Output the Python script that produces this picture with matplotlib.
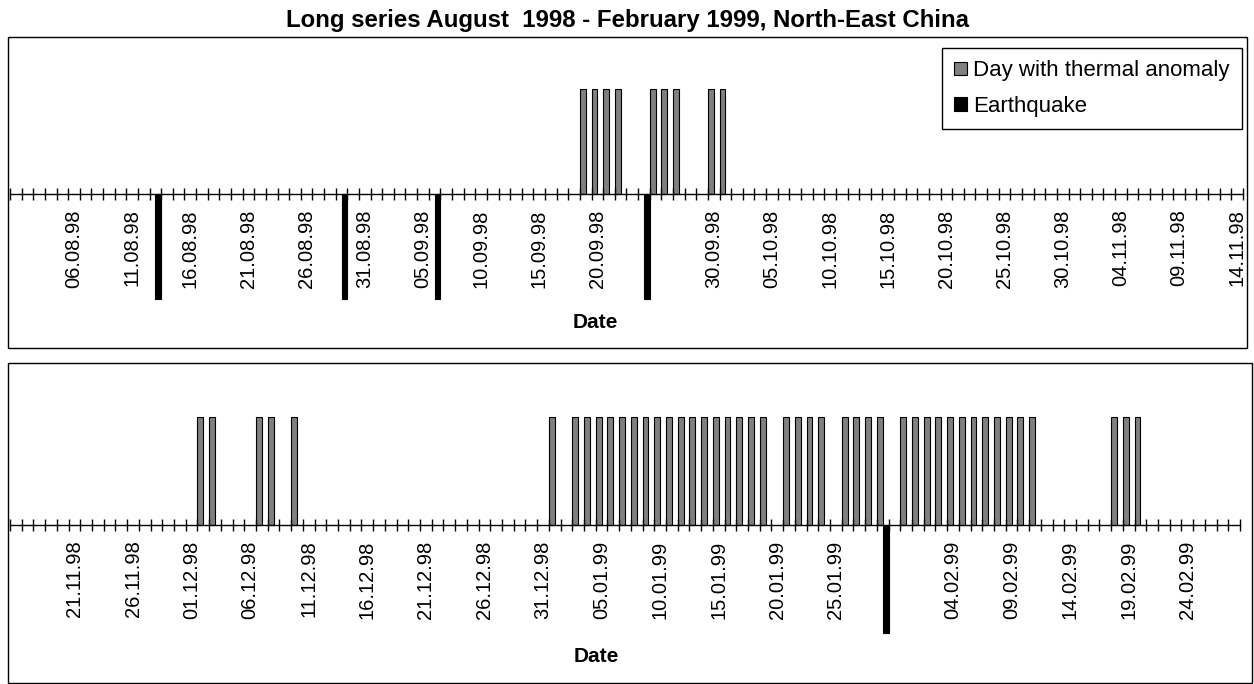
import numpy as np
import pandas as pd
import matplotlib
matplotlib.use('Agg')
import matplotlib.pyplot as plt
from matplotlib.patches import Rectangle

plt.rcParams['font.family'] = ['Liberation Sans', 'DejaVu Sans']

# 数据：日期区间、热异常日、地震日、刻度标签
title = 'Long series August  1998 - February 1999, North-East China'

top_start, top_end = '1998-08-01', '1998-11-14'
bottom_start, bottom_end = '1998-11-16', '1999-02-28'

anomaly_days = [
    '19.09.98', '20.09.98', '21.09.98', '22.09.98',
    '25.09.98', '26.09.98', '27.09.98',
    '30.09.98', '01.10.98',
    '02.12.98', '03.12.98', '07.12.98', '08.12.98', '10.12.98',
    '01.01.99', '03.01.99', '04.01.99', '05.01.99', '06.01.99', '07.01.99',
    '08.01.99', '09.01.99', '10.01.99', '11.01.99', '12.01.99', '13.01.99',
    '14.01.99', '15.01.99', '16.01.99', '17.01.99', '18.01.99', '19.01.99',
    '21.01.99', '22.01.99', '23.01.99', '24.01.99',
    '26.01.99', '27.01.99', '28.01.99', '29.01.99',
    '31.01.99', '01.02.99', '02.02.99', '03.02.99', '04.02.99', '05.02.99',
    '06.02.99', '07.02.99', '08.02.99', '09.02.99', '10.02.99', '11.02.99',
    '18.02.99', '19.02.99', '20.02.99',
]

quake_days = ['13.08.98', '29.08.98', '06.09.98', '24.09.98', '29.01.99']

top_labels = [
    '06.08.98', '11.08.98', '16.08.98', '21.08.98', '26.08.98', '31.08.98',
    '05.09.98', '10.09.98', '15.09.98', '20.09.98', '30.09.98', '05.10.98',
    '10.10.98', '15.10.98', '20.10.98', '25.10.98', '30.10.98', '04.11.98',
    '09.11.98', '14.11.98',
]

bottom_labels = [
    '21.11.98', '26.11.98', '01.12.98', '06.12.98', '11.12.98', '16.12.98',
    '21.12.98', '26.12.98', '31.12.98', '05.01.99', '10.01.99', '15.01.99',
    '20.01.99', '25.01.99', '04.02.99', '09.02.99', '14.02.99', '19.02.99',
    '24.02.99',
]

W, H = 1254, 684


def px_box(x0, y0, x1, y1):
    # 像素坐标（左上为原点）转换为 figure 坐标
    return [x0 / W, 1 - y1 / H, (x1 - x0) / W, (y1 - y0) / H]


def parse(dates):
    return pd.to_datetime(dates, format='%d.%m.%y')


def draw_panel(ax, start, end, labels):
    days = pd.date_range(start, end, freq='D')
    n = len(days)
    x = np.arange(n)
    anomaly = np.where(days.isin(parse(anomaly_days)), 1, 0)
    quake = np.where(days.isin(parse(quake_days)), -1, 0)

    m = anomaly != 0
    ax.bar(x[m] - 0.25, anomaly[m], width=0.5, color='#808080',
           edgecolor='black', linewidth=0.8, label='Day with thermal anomaly')
    m = quake != 0
    ax.bar(x[m] + 0.25, quake[m], width=0.5, color='black',
           edgecolor='black', linewidth=0.8, label='Earthquake')

    ax.set_xlim(-0.5, n - 0.5)
    for s in ['top', 'left', 'right']:
        ax.spines[s].set_visible(False)
    ax.spines['bottom'].set_position(('data', 0))
    ax.spines['bottom'].set_linewidth(1)
    ax.set_yticks([])

    # 分类之间的刻度
    ax.set_xticks(np.arange(n + 1) - 0.5)
    ax.tick_params(axis='x', which='major', direction='inout', length=9,
                   width=1, labelbottom=False)
    # 每5天的日期标签
    pos = (parse(labels) - pd.Timestamp(start)).days
    ax.set_xticks(pos, labels, minor=True)
    ax.tick_params(axis='x', which='minor', length=0, pad=11,
                   labelrotation=90, labelsize=14.5)
    ax.set_xlabel('Date', fontsize=15, fontweight='bold')


fig = plt.figure(figsize=(W / 100, H / 100), dpi=100)

fig.text(627 / W, 1 - 27 / H, title, ha='center', va='baseline',
         fontsize=17.3, fontweight='bold')

fig.add_artist(Rectangle((8 / W, 1 - 348 / H), 1239 / W, 311 / H,
                         transform=fig.transFigure, fill=False,
                         edgecolor='black', linewidth=1))
fig.add_artist(Rectangle((8 / W, 1 - 683 / H), 1244 / W, 320 / H,
                         transform=fig.transFigure, fill=False,
                         edgecolor='black', linewidth=1))

ax1 = fig.add_axes(px_box(10, 38, 1243, 348))
ax1.patch.set_alpha(0)
draw_panel(ax1, top_start, top_end, top_labels)
ax1.set_ylim(-(348 - 194) / 105, (194 - 38) / 105)
ax1.xaxis.set_label_coords((595 - 10) / 1233, (348 - 313) / 310)

ax2 = fig.add_axes(px_box(10, 363, 1240, 683))
ax2.patch.set_alpha(0)
draw_panel(ax2, bottom_start, bottom_end, bottom_labels)
ax2.set_ylim(-(683 - 525) / 108, (525 - 363) / 108)
ax2.xaxis.set_label_coords((596 - 10) / 1230, (683 - 647) / 320)

leg = ax1.legend(loc='upper right', bbox_to_anchor=(1242 / W, 1 - 48 / H),
                 bbox_transform=fig.transFigure, frameon=True, fancybox=False,
                 edgecolor='black', framealpha=1, fontsize=16,
                 handlelength=0.55, handleheight=0.55, handletextpad=0.3,
                 labelspacing=0.65, borderpad=0.55, borderaxespad=0)
leg.get_frame().set_linewidth(1)

fig.savefig('out.png', dpi=100)
